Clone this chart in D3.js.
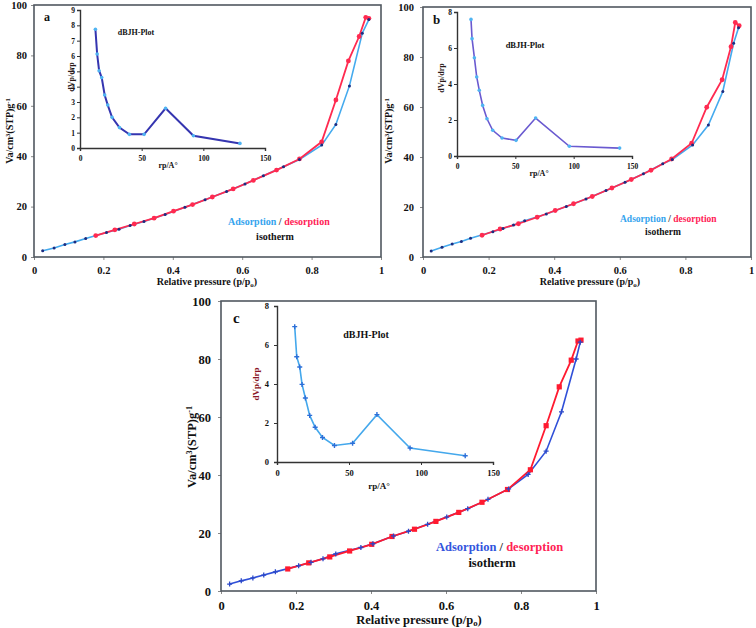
<!DOCTYPE html>
<html><head><meta charset="utf-8">
<script src="https://cdn.jsdelivr.net/npm/d3@7"></script>
<style>
body{margin:0;background:#fff}
svg{display:block}
text{font-family:"Liberation Serif","Times New Roman",serif;font-weight:bold}
</style>
</head><body>
<svg id="chart" width="756" height="628"></svg>
<script>
// ---------- DATA ----------
const mainXTicks = [0, 0.2, 0.4, 0.6, 0.8, 1];
const mainYTicks = [0, 20, 40, 60, 80, 100];
const insetXTicks = [0, 50, 100, 150];
const insetYTicksA = [0,1,2,3,4,5,6,7,8,9];
const insetYTicksBC = [0,2,4,6,8];

// Panel a
const adsA_p = [0.025,0.058,0.089,0.118,0.149,0.209,0.245,0.277,0.317,0.378,0.435,0.493,0.555,0.608,0.661,0.719,0.765,0.829,0.870,0.909,0.946,0.965];
const adsA_v = [2.5,3.6,5.0,6.0,7.3,9.7,11.0,12.5,14.1,16.9,19.7,22.7,26.0,29.0,32.2,35.8,38.7,44.4,52.6,67.9,88.8,94.2];
const desA_p = [0.178,0.233,0.289,0.346,0.402,0.457,0.514,0.574,0.632,0.699,0.765,0.829,0.870,0.906,0.937,0.956,0.965];
const desA_v = [8.5,10.8,13.1,15.4,18.2,20.8,23.8,27.0,30.4,34.5,38.9,45.7,62.3,77.8,87.5,95.1,94.7];
const bjhA_r = [12.5,13.9,15.5,17.6,20,22.5,26,32,40,52,69.4,92,129.7];
const bjhA_v = [7.74,6.13,5.04,4.59,3.46,2.8,2.0,1.33,0.89,0.89,2.59,0.8,0.3];

// Panel b
const adsB_p = [0.025,0.058,0.089,0.117,0.145,0.213,0.244,0.276,0.31,0.376,0.437,0.497,0.558,0.616,0.672,0.731,0.76,0.822,0.87,0.914,0.947,0.962];
const adsB_v = [2.4,3.9,5.2,6.2,7.5,10.1,11.4,12.8,14.5,17.2,20.2,23.2,26.6,29.9,33.3,37.3,39.0,44.8,52.8,66.2,85.5,91.7];
const desB_p = [0.18,0.235,0.291,0.348,0.403,0.459,0.516,0.576,0.635,0.695,0.758,0.819,0.865,0.912,0.939,0.952,0.964];
const desB_v = [8.7,11.2,13.3,15.9,18.6,21.3,24.2,27.6,31.0,34.7,39.2,45.5,59.9,70.9,84.1,93.8,92.5];
const bjhB_r = [12,12.9,14.9,16.9,19.1,22,25.7,30.6,38.6,50.6,67.4,96.3,139.4];
const bjhB_v = [7.59,6.52,5.46,4.39,3.65,2.81,2.07,1.43,1.0,0.87,2.11,0.54,0.44];

// Panel c
const adsC_p = [0.023,0.054,0.085,0.114,0.145,0.207,0.24,0.272,0.306,0.373,0.405,0.46,0.5,0.551,0.602,0.658,0.712,0.767,0.819,0.867,0.908,0.947,0.958];
const adsC_v = [2.4,3.5,4.5,5.5,6.6,8.7,9.9,11.1,12.8,15.0,16.3,19.0,20.6,23.0,25.5,28.4,31.6,35.2,40.2,48.2,61.8,80.0,85.8];
const desC_p = [0.178,0.234,0.29,0.343,0.402,0.456,0.516,0.573,0.634,0.696,0.764,0.825,0.867,0.902,0.934,0.952,0.96];
const desC_v = [7.6,9.7,11.75,13.8,16.1,18.8,21.3,24.0,27.1,30.6,35.0,41.8,57.0,70.4,79.6,86.2,86.5];
const bjhC_r = [12.3,13.7,15.8,17.4,19.7,22.7,26.5,31.6,39.9,52.5,69.4,92.4,130.7];
const bjhC_v = [6.94,5.40,4.87,3.98,3.28,2.39,1.78,1.26,0.85,0.96,2.43,0.72,0.32];

// ---------- DRAW ----------
const svg = d3.select("#chart");
const zip = (a, b) => a.map((d, i) => [d, b[i]]);

function drawPanel(o) {
  const g = svg.append("g");
  const x = d3.scaleLinear().domain([0, 1]).range([o.L, o.R]);
  const y = d3.scaleLinear().domain([0, 100]).range([o.B, o.T]);

  const xa = g.append("g").attr("transform", `translate(0,${o.B})`)
    .call(d3.axisBottom(x).tickValues(mainXTicks).tickSize(3).tickPadding(o.xPad).tickFormat(d => String(d)));
  const ya = g.append("g").attr("transform", `translate(${o.L},0)`)
    .call(d3.axisLeft(y).tickValues(mainYTicks).tickSize(3).tickPadding(o.yPad).tickFormat(d3.format("d")));
  [xa, ya].forEach(a => {
    a.select(".domain").remove();
    a.selectAll(".tick line").attr("stroke", "#888");
    a.selectAll(".tick text").attr("fill", "#111").style("font-size", o.tickFs + "px")
      .style("font-family", '"Liberation Serif",serif').style("font-weight", "bold");
  });

  g.append("rect").attr("x", o.L).attr("y", o.T).attr("width", o.R - o.L).attr("height", o.B - o.T)
    .attr("fill", "none").attr("stroke", "#505860").attr("stroke-width", 1.6);

  const xl = g.append("text").attr("x", o.xLabX).attr("y", o.xLabY).attr("text-anchor", "middle")
    .style("font-size", o.labFs + "px").attr("fill", "#111");
  xl.append("tspan").text("Relative pressure (p/p");
  xl.append("tspan").text("o").style("font-size", (o.labFs * 0.7) + "px").attr("dy", 2);
  xl.append("tspan").text(")").attr("dy", -2);

  const yl = g.append("text").attr("transform", `translate(${o.yLabX},${o.yLabY}) rotate(-90)`)
    .attr("text-anchor", "middle").style("font-size", o.labFs + "px").attr("fill", "#111");
  yl.append("tspan").text("Va/cm");
  yl.append("tspan").text("3").style("font-size", (o.labFs * 0.65) + "px").attr("dy", -o.labFs * 0.35);
  yl.append("tspan").text("(STP)g").attr("dy", o.labFs * 0.35);
  yl.append("tspan").text("-1").style("font-size", (o.labFs * 0.65) + "px").attr("dy", -o.labFs * 0.35);

  g.append("text").attr("x", o.letX).attr("y", o.letY).text(o.letter)
    .style("font-size", o.letFs + "px").attr("fill", "#111");

  const line = d3.line().x(d => x(d[0])).y(d => y(d[1]));
  const ads = zip(o.adsP, o.adsV), des = zip(o.desP, o.desV);
  g.append("path").attr("d", line(ads)).attr("fill", "none").attr("stroke", o.adsColor).attr("stroke-width", 1.6);
  g.append("path").attr("d", line(des)).attr("fill", "none").attr("stroke", o.desColor).attr("stroke-width", 1.8);

  if (o.style === "c") {
    g.selectAll(".dm").data(des).enter().append("rect")
      .attr("x", d => x(d[0]) - 2.6).attr("y", d => y(d[1]) - 2.6).attr("width", 5.2).attr("height", 5.2)
      .attr("fill", o.desColor);
    g.selectAll(".am").data(ads).enter().append("path")
      .attr("d", d => `M${x(d[0]) - 2.5},${y(d[1])}h5M${x(d[0])},${y(d[1]) - 2.5}v5`)
      .attr("stroke", "#2b48c8").attr("stroke-width", 1.3);
  } else {
    g.selectAll(".dm").data(des).enter().append("circle")
      .attr("cx", d => x(d[0])).attr("cy", d => y(d[1])).attr("r", 2.4).attr("fill", o.desColor);
    g.selectAll(".am").data(ads).enter().append("circle")
      .attr("cx", d => x(d[0])).attr("cy", d => y(d[1])).attr("r", 1.5).attr("fill", "#1c2c80");
  }

  const lg = g.append("text").attr("x", o.legX).attr("y", o.legY).style("font-size", o.legFs + "px");
  lg.append("tspan").text("Adsorption ").attr("fill", o.legAdsColor);
  lg.append("tspan").text("/ ").attr("fill", "#333");
  lg.append("tspan").text("desorption").attr("fill", "#ff2255");
  g.append("text").attr("x", o.isoX).attr("y", o.isoY).attr("text-anchor", "middle")
    .style("font-size", o.legFs + "px").attr("fill", "#111").text("isotherm");

  // inset
  const ix = d3.scaleLinear().domain([0, 150]).range([o.iL, o.iR]);
  const iy = d3.scaleLinear().domain([0, o.iYMax]).range([o.iB, o.iT]);
  const ixa = g.append("g").attr("transform", `translate(0,${o.iB})`)
    .call(d3.axisBottom(ix).tickValues(insetXTicks).tickSize(3).tickPadding(o.iXPad).tickFormat(d3.format("d")));
  const iya = g.append("g").attr("transform", `translate(${o.iL},0)`)
    .call(d3.axisLeft(iy).tickValues(o.iYTicks).tickSize(3).tickPadding(o.iYPad).tickFormat(d3.format("d")));
  [ixa, iya].forEach(a => {
    a.select(".domain").attr("stroke", "#333").attr("stroke-width", 1.4);
    a.selectAll(".tick line").attr("stroke", "#333");
    a.selectAll(".tick text").attr("fill", "#111").style("font-size", o.iTickFs + "px")
      .style("font-family", '"Liberation Serif",serif').style("font-weight", "bold");
  });
  g.append("text").attr("x", o.iXLabX).attr("y", o.iXLabY).attr("text-anchor", "middle")
    .style("font-size", o.iLabFs + "px").attr("fill", "#111").text("rp/A°");
  g.append("text").attr("transform", `translate(${o.iYLabX},${o.iYLabY}) rotate(-90)`)
    .attr("text-anchor", "middle").style("font-size", o.iLabFs + "px").attr("fill", o.iYLabColor).text("dVp/drp");
  g.append("text").attr("x", o.bjhX).attr("y", o.bjhY).attr("text-anchor", "middle")
    .style("font-size", o.bjhFs + "px").attr("fill", "#111").text("dBJH-Plot");

  const bjh = zip(o.bjhR, o.bjhV);
  const iline = d3.line().x(d => ix(d[0])).y(d => iy(d[1]));
  g.append("path").attr("d", iline(bjh)).attr("fill", "none").attr("stroke", o.iLineColor).attr("stroke-width", o.iLineW);
  if (o.style === "c") {
    g.selectAll(".bm").data(bjh).enter().append("path")
      .attr("d", d => `M${ix(d[0]) - 2.5},${iy(d[1])}h5M${ix(d[0])},${iy(d[1]) - 2.5}v5`)
      .attr("stroke", "#2d6fd8").attr("stroke-width", 1.4);
  } else {
    g.selectAll(".bm").data(bjh).enter().append("circle")
      .attr("cx", d => ix(d[0])).attr("cy", d => iy(d[1])).attr("r", 1.8).attr("fill", "#4fb4f2");
  }
}

drawPanel({
  letter: "a", letX: 44, letY: 21, letFs: 12,
  L: 34, R: 381, T: 5, B: 257, xPad: 7, yPad: 4, tickFs: 10.5, labFs: 10,
  xLabX: 207, xLabY: 285, yLabX: 13, yLabY: 131,
  adsP: adsA_p, adsV: adsA_v, desP: desA_p, desV: desA_v,
  adsColor: "#44aaee", desColor: "#ff2a50", style: "ab",
  legX: 228, legY: 225, legFs: 10, legAdsColor: "#35a4ee", isoX: 275, isoY: 240,
  iL: 80, iR: 265, iT: 10, iB: 148, iYMax: 9, iYTicks: insetYTicksA, iXPad: 5, iYPad: 2, iTickFs: 7.5,
  iXLabX: 168, iXLabY: 168, iYLabX: 74, iYLabY: 77, iLabFs: 8, iYLabColor: "#2a1a1a",
  bjhX: 136, bjhY: 35, bjhFs: 8, bjhR: bjhA_r, bjhV: bjhA_v, iLineColor: "#3535b0", iLineW: 2
});

drawPanel({
  letter: "b", letX: 433, letY: 24, letFs: 13,
  L: 423, R: 751, T: 7, B: 257, xPad: 7, yPad: 6, tickFs: 10.5, labFs: 10,
  xLabX: 590, xLabY: 285, yLabX: 392, yLabY: 131,
  adsP: adsB_p, adsV: adsB_v, desP: desB_p, desV: desB_v,
  adsColor: "#44aaee", desColor: "#ff2a50", style: "ab",
  legX: 620, legY: 222, legFs: 9.5, legAdsColor: "#35a4ee", isoX: 663, isoY: 235,
  iL: 457, iR: 632, iT: 12, iB: 156, iYMax: 8, iYTicks: insetYTicksBC, iXPad: 5, iYPad: 2, iTickFs: 7.5,
  iXLabX: 539, iXLabY: 176, iYLabX: 444, iYLabY: 78, iLabFs: 8, iYLabColor: "#2a1a1a",
  bjhX: 525, bjhY: 48, bjhFs: 8.5, bjhR: bjhB_r, bjhV: bjhB_v, iLineColor: "#6a5ad0", iLineW: 1.6
});

drawPanel({
  letter: "c", letX: 233, letY: 323, letFs: 15,
  L: 221, R: 596, T: 301, B: 591, xPad: 7, yPad: 7, tickFs: 12.5, labFs: 12.5,
  xLabX: 419, xLabY: 624, yLabX: 196, yLabY: 447,
  adsP: adsC_p, adsV: adsC_v, desP: desC_p, desV: desC_v,
  adsColor: "#3050d8", desColor: "#ff1a30", style: "c",
  legX: 436, legY: 551, legFs: 12.5, legAdsColor: "#3355dd", isoX: 492, isoY: 567,
  iL: 277, iR: 493, iT: 306, iB: 462, iYMax: 8, iYTicks: insetYTicksBC, iXPad: 5, iYPad: 5, iTickFs: 8.5,
  iXLabX: 379, iXLabY: 489, iYLabX: 259, iYLabY: 384, iLabFs: 9, iYLabColor: "#8a1525",
  bjhX: 366, bjhY: 338, bjhFs: 10, bjhR: bjhC_r, bjhV: bjhC_v, iLineColor: "#44a8ec", iLineW: 1.6
});
</script>
</body></html>
